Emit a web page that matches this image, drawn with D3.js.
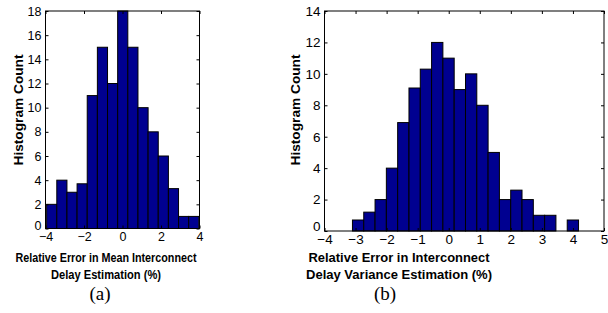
<!DOCTYPE html>
<html>
<head>
<meta charset="utf-8">
<script src="https://cdn.jsdelivr.net/npm/d3@7"></script>
<style>
  body { margin: 0; background: #fff; }
  svg { display: block; }
  .tick text { font-family: "Liberation Sans", Arial, sans-serif; fill: #000; }
  .domain { display: none; }
</style>
</head>
<body>
<script>
// (a) mean error histogram
const countsA = [2, 4, 3, 3.7, 11, 15, 12, 18, 15, 10, 8, 6, 3.3, 1, 1];
const binStartA = -3.94;
const binWidthA = 0.527;
const xTicksA = [-4, -2, 0, 2, 4];
const yTicksA = [0, 2, 4, 6, 8, 10, 12, 14, 16, 18];

// (b) variance error histogram
const countsB = [0.7, 1.2, 2, 4, 6.9, 9.1, 10.3, 12, 11, 9, 10, 8, 5, 2, 2.6, 2, 1, 1, 0, 0.7];
const binStartB = -3.10;
const binWidthB = 0.364;
const xTicksB = [-4, -3, -2, -1, 0, 1, 2, 3, 4, 5];
const yTicksB = [0, 2, 4, 6, 8, 10, 12, 14];

const width = 608;
const height = 313;
const barColor = "#000090";

const svg = d3.select("body")
    .append("svg")
    .attr("width", width)
    .attr("height", height);

function drawHist(opts) {
    const x = d3.scaleLinear().domain(opts.xDomain).range([opts.left, opts.right]);
    const y = d3.scaleLinear().domain(opts.yDomain).range([opts.bottom, opts.top]);
    const g = svg.append("g");

    g.append("rect")
        .attr("x", opts.left)
        .attr("y", opts.top)
        .attr("width", opts.right - opts.left)
        .attr("height", opts.bottom - opts.top)
        .attr("fill", "#fff");

    const bins = opts.counts.map((c, i) => ({
        x0: opts.binStart + i * opts.binWidth,
        x1: opts.binStart + (i + 1) * opts.binWidth,
        c: c
    }));

    g.selectAll("rect.bar")
        .data(bins.filter(d => d.c > 0))
        .enter()
        .append("rect")
        .attr("class", "bar")
        .attr("x", d => x(d.x0))
        .attr("y", d => y(d.c))
        .attr("width", d => x(d.x1) - x(d.x0))
        .attr("height", d => y(0) - y(d.c))
        .attr("fill", barColor)
        .attr("stroke", "#000")
        .attr("stroke-width", 1);

    // ticks inside, MATLAB style, on all four sides
    const fs = opts.tickFont;
    g.append("g")
        .attr("transform", `translate(0,${opts.bottom})`)
        .call(d3.axisBottom(x).tickValues(opts.xTicks).tickSize(-3).tickPadding(opts.xPad).tickFormat(d3.format("d")))
        .call(a => a.selectAll("text").style("font-size", fs + "px"));
    g.append("g")
        .attr("transform", `translate(${opts.left},0)`)
        .call(d3.axisLeft(y).tickValues(opts.yTicks).tickSize(-3).tickPadding(opts.yPad).tickFormat(d3.format("d")))
        .call(a => a.selectAll("text").style("font-size", fs + "px"))
        // the zero label sits a little higher so it clears the first x label
        .call(a => a.selectAll(".tick").filter(d => d === 0).select("text").attr("dy", opts.zeroDy));
    g.append("g")
        .attr("transform", `translate(0,${opts.top})`)
        .call(d3.axisTop(x).tickValues(opts.xTicks).tickSize(-3).tickFormat(""));
    g.append("g")
        .attr("transform", `translate(${opts.right},0)`)
        .call(d3.axisRight(y).tickValues(opts.yTicks).tickSize(-3).tickFormat(""));

    g.selectAll(".tick line").attr("stroke", "#000");

    g.append("rect")
        .attr("x", opts.left)
        .attr("y", opts.top)
        .attr("width", opts.right - opts.left)
        .attr("height", opts.bottom - opts.top)
        .attr("fill", "none")
        .attr("stroke", "#000")
        .attr("stroke-width", 1);

    // y label
    g.append("text")
        .attr("transform", `translate(${opts.yLabelX},${opts.yLabelY}) rotate(-90)`)
        .attr("text-anchor", "middle")
        .style("font-family", "Liberation Sans, Arial, sans-serif")
        .style("font-weight", "bold")
        .style("font-size", "13.5px")
        .attr("textLength", 111)
        .attr("lengthAdjust", "spacingAndGlyphs")
        .text("Histogram Count");

    // x label, two lines
    opts.xLabel.forEach((line, i) => {
        g.append("text")
            .attr("x", opts.xLabelX)
            .attr("y", opts.xLabelY[i])
            .attr("text-anchor", "middle")
            .style("font-family", "Liberation Sans, Arial, sans-serif")
            .style("font-weight", "bold")
            .style("font-size", opts.labelFont + "px")
            .attr("textLength", opts.xLabelLen[i])
            .attr("lengthAdjust", "spacingAndGlyphs")
            .text(line);
    });

    g.append("text")
        .attr("x", opts.captionX)
        .attr("y", 300)
        .attr("text-anchor", "middle")
        .style("font-family", "Liberation Serif, Times New Roman, serif")
        .style("font-size", "19px")
        .text(opts.caption);
}

drawHist({
    counts: countsA, binStart: binStartA, binWidth: binWidthA,
    xDomain: [-4, 4], yDomain: [0, 18],
    xTicks: xTicksA, yTicks: yTicksA,
    left: 45.5, right: 199.5, top: 11, bottom: 228.5,
    tickFont: 12.5, xPad: 4, yPad: 4, zeroDy: "0.1em",
    yLabelX: 23, yLabelY: 110,
    xLabel: ["Relative Error in Mean Interconnect", "Delay Estimation (%)"],
    xLabelX: 106, xLabelY: [262, 279], xLabelLen: [181, 110], labelFont: 12.5,
    caption: "(a)", captionX: 100
});

drawHist({
    counts: countsB, binStart: binStartB, binWidth: binWidthB,
    xDomain: [-4, 5], yDomain: [0, 14],
    xTicks: xTicksB, yTicks: yTicksB,
    left: 324.5, right: 604, top: 11, bottom: 231,
    tickFont: 13.5, xPad: 3, yPad: 4, zeroDy: "-0.05em",
    yLabelX: 300, yLabelY: 110,
    xLabel: ["Relative Error in Interconnect", "Delay Variance Estimation (%)"],
    xLabelX: 399, xLabelY: [262, 279], xLabelLen: [181, 186], labelFont: 13,
    caption: "(b)", captionX: 385
});
</script>
</body>
</html>
